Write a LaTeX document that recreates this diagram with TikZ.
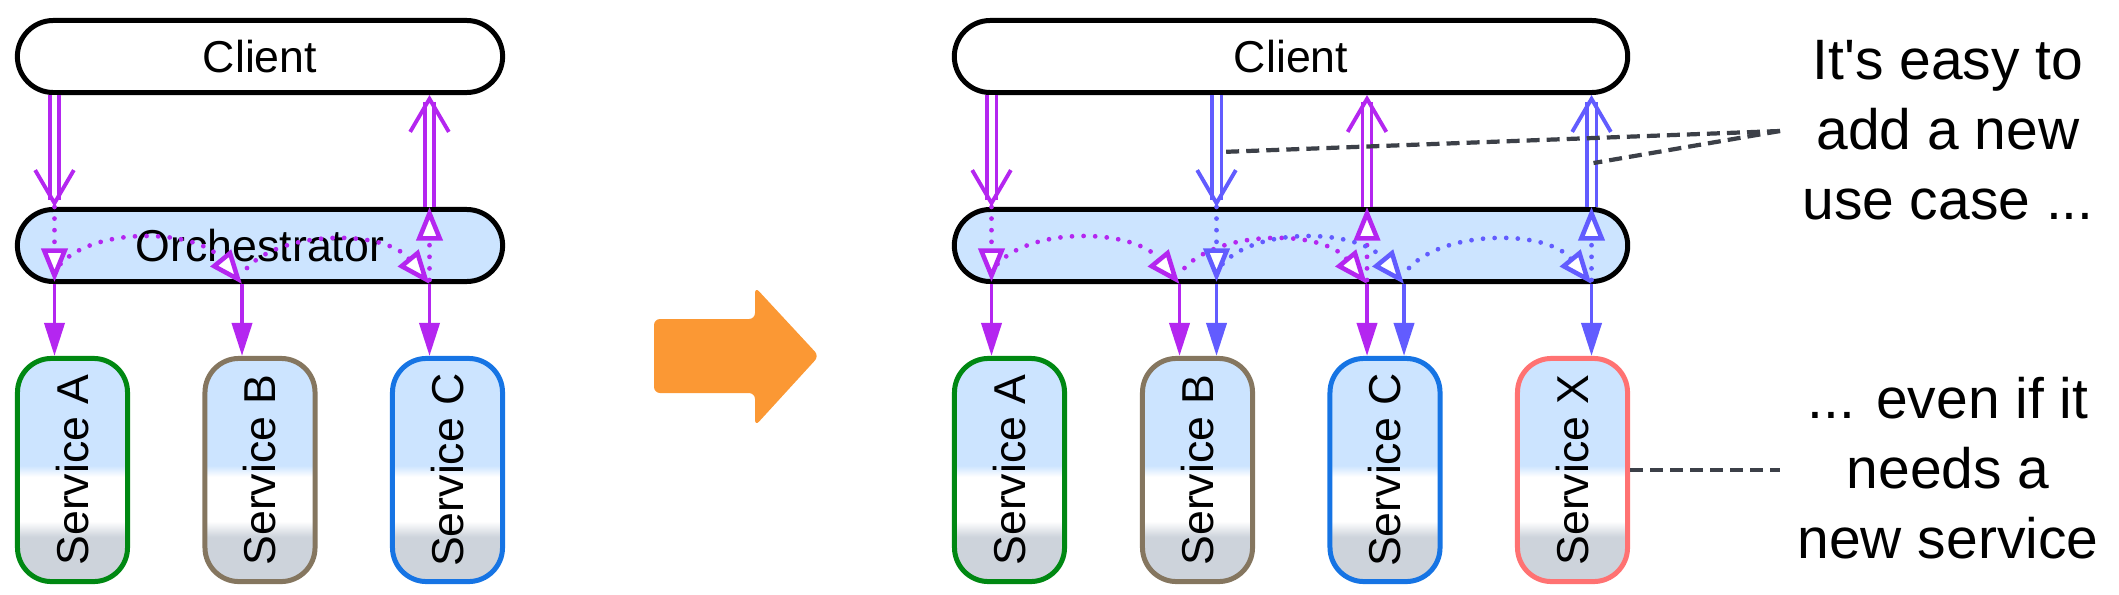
\documentclass[tikz,border=0pt]{standalone}
\usepackage{fontspec}
\setmainfont{Liberation Sans}[Ligatures=TeXOff]
\usetikzlibrary{arrows.meta,calc}
\definecolor{callpurple}{RGB}{180,38,240}
\definecolor{callblue}{RGB}{98,92,255}
\definecolor{orchblue}{RGB}{204,228,255}
\definecolor{svcgray}{RGB}{205,211,219}
\definecolor{svcgreen}{RGB}{0,136,18}
\definecolor{svcbrown}{RGB}{133,118,95}
\definecolor{svcblue}{RGB}{22,116,228}
\definecolor{svcred}{RGB}{255,114,114}
\definecolor{hintgray}{RGB}{60,64,72}
\definecolor{shiftorange}{RGB}{251,152,52}
\pgfdeclareverticalshading{svcshade}{100bp}{color(0bp)=(svcgray); color(35bp)=(svcgray); color(38.5bp)=(white); color(48.5bp)=(white); color(51bp)=(orchblue); color(100bp)=(orchblue)}

\tikzset{
    box/.style={draw=black, line width=1.42pt, rounded corners=0.36cm, minimum height=0.72cm, inner sep=0pt, font=\fontsize{12.7}{15}\selectfont},
    svc/.style={draw=#1, line width=1.42pt, rounded corners=0.34cm, shading=svcshade, minimum width=1.10cm, minimum height=2.23cm, inner sep=0pt, font=\fontsize{12.7}{15}\selectfont},
    call/.style={draw=#1, line width=1.1pt, -{Triangle[length=9.4pt,width=5.7pt]}},
    flow/.style={draw=#1, line width=1.35pt, line cap=round, dash pattern=on 0pt off 3.3pt, -{Triangle[open,length=9.6pt,width=7.4pt,line width=1.3pt,fill=white]}},
    usecase/.style={draw=#1, double=white, double distance=1.7pt, line width=0.9pt, shorten >=2pt},
    barb/.style={draw=#1, line width=1.1pt, -{Straight Barb[length=9.4pt,width=11pt]}},
    hint/.style={draw=hintgray, line width=1.2pt, dash pattern=on 3.7pt off 2pt},
    note/.style={align=center, inner sep=0pt, font=\fontsize{16.2}{19.9}\selectfont}
}

\begin{document}
\begin{tikzpicture}[x=0.01cm, y=-0.01cm]
    \useasboundingbox (0,0) rectangle (2119,594);

    % before
    \node [box, minimum width=4.85cm] (client) at (260,56.5) {Client};
    \node [box, minimum width=4.85cm, fill=orchblue] (orch) at (260,245.5) {Orchestrator};
    \node [svc=svcgreen] (svcA) at (72.5,470) {\rotatebox{90}{Service A}};
    \node [svc=svcbrown] (svcB) at (260,470) {\rotatebox{90}{Service B}};
    \node [svc=svcblue] (svcC) at (447.5,470) {\rotatebox{90}{Service C}};

    \coordinate (inA) at ($(svcA.north)+(-18,0)$);
    \coordinate (inB) at ($(svcB.north)+(-18,0)$);
    \coordinate (inC) at ($(svcC.north)+(-18,0)$);

    \draw [usecase=callpurple] (client.south -| inA) -- (orch.north -| inA);
    \draw [barb=callpurple] ($(orch.north -| inA)+(0,-3)$) -- (orch.north -| inA);
    \draw [flow=callpurple] (orch.north -| inA) -- ($(orch.south -| inA)+(0,-2)$);
    \draw [flow=callpurple] ($(orch.south -| inA)+(6,-20)$) .. controls +(35,-38) and +(-45,-55) .. (orch.south -| inB);
    \draw [flow=callpurple] ($(orch.south -| inB)+(5,-16)$) .. controls +(35,-38) and +(-45,-55) .. (orch.south -| inC);
    \draw [flow=callpurple] ($(orch.south -| inC)+(0,-4)$) -- (orch.north -| inC);
    \draw [usecase=callpurple] (orch.north -| inC) -- (client.south -| inC);
    \draw [barb=callpurple] ($(client.south -| inC)+(0,3)$) -- (client.south -| inC);
    \draw [call=callpurple] (orch.south -| inA) -- (inA);
    \draw [call=callpurple] (orch.south -| inB) -- (inB);
    \draw [call=callpurple] (orch.south -| inC) -- (inC);

    % shift
    \fill [shiftorange, rounded corners=0.06cm] (654,319) -- (755,319) -- (755,287) -- (819,356) -- (755,426) -- (755,393) -- (654,393) -- cycle;

    % after
    \node [box, minimum width=6.73cm] (client2) at (1291,56.5) {Client};
    \node [box, minimum width=6.73cm, fill=orchblue] (orch2) at (1291,245.5) {};
    \node [svc=svcgreen] (svcA2) at (1009.5,470) {\rotatebox{90}{Service A}};
    \node [svc=svcbrown] (svcB2) at (1197.5,470) {\rotatebox{90}{Service B}};
    \node [svc=svcblue] (svcC2) at (1385,470) {\rotatebox{90}{Service C}};
    \node [svc=svcred] (svcX2) at (1572.5,470) {\rotatebox{90}{Service X}};

    \coordinate (inA2) at ($(svcA2.north)+(-18,0)$);
    \coordinate (inB2) at ($(svcB2.north)+(-18,0)$);
    \coordinate (inC2) at ($(svcC2.north)+(-18,0)$);
    \coordinate (newB2) at ($(svcB2.north)+(19,0)$);
    \coordinate (newC2) at ($(svcC2.north)+(19,0)$);
    \coordinate (newX2) at ($(svcX2.north)+(19,0)$);

    \draw [usecase=callpurple] (client2.south -| inA2) -- (orch2.north -| inA2);
    \draw [barb=callpurple] ($(orch2.north -| inA2)+(0,-3)$) -- (orch2.north -| inA2);
    \draw [flow=callpurple] (orch2.north -| inA2) -- ($(orch2.south -| inA2)+(0,-2)$);
    \draw [flow=callpurple] ($(orch2.south -| inA2)+(6,-20)$) .. controls +(35,-38) and +(-45,-55) .. (orch2.south -| inB2);
    \draw [flow=callpurple] ($(orch2.south -| inB2)+(5,-16)$) .. controls +(35,-38) and +(-45,-55) .. (orch2.south -| inC2);
    \draw [flow=callpurple] ($(orch2.south -| inC2)+(0,-4)$) -- (orch2.north -| inC2);
    \draw [usecase=callpurple] (orch2.north -| inC2) -- (client2.south -| inC2);
    \draw [barb=callpurple] ($(client2.south -| inC2)+(0,3)$) -- (client2.south -| inC2);
    \draw [call=callpurple] (orch2.south -| inA2) -- (inA2);
    \draw [call=callpurple] (orch2.south -| inB2) -- (inB2);
    \draw [call=callpurple] (orch2.south -| inC2) -- (inC2);

    \draw [usecase=callblue] (client2.south -| newB2) -- (orch2.north -| newB2);
    \draw [barb=callblue] ($(orch2.north -| newB2)+(0,-3)$) -- (orch2.north -| newB2);
    \draw [flow=callblue] (orch2.north -| newB2) -- ($(orch2.south -| newB2)+(0,-2)$);
    \draw [flow=callblue] ($(orch2.south -| newB2)+(6,-20)$) .. controls +(35,-38) and +(-45,-55) .. (orch2.south -| newC2);
    \draw [flow=callblue] ($(orch2.south -| newC2)+(5,-16)$) .. controls +(35,-38) and +(-45,-55) .. (orch2.south -| newX2);
    \draw [flow=callblue] ($(orch2.south -| newX2)+(0,-4)$) -- (orch2.north -| newX2);
    \draw [usecase=callblue] (orch2.north -| newX2) -- (client2.south -| newX2);
    \draw [barb=callblue] ($(client2.south -| newX2)+(0,3)$) -- (client2.south -| newX2);
    \draw [call=callblue] (orch2.south -| newB2) -- (newB2);
    \draw [call=callblue] (orch2.south -| newC2) -- (newC2);
    \draw [call=callblue] (orch2.south -| newX2) -- (newX2);

    % notes
    \node [note, anchor=north] (easy) at (1948,40) {It's easy to\\add a new\\use case ...};
    \node [note, anchor=north] (even) at (1948,377) {... even if it\\needs a\\new service};
    \coordinate (easyhint) at (1780,131);
    \coordinate (evenhint) at (1780,470);
    \coordinate (hintB2) at ($(client2.south -| newB2)+(4,57)$);
    \coordinate (hintX2) at ($(client2.south -| newX2)+(2,68)$);
    \draw [hint] (easyhint) -- (hintB2);
    \draw [hint] (easyhint) -- (hintX2);
    \draw [hint] (svcX2.east) -- (evenhint);
\end{tikzpicture}
\end{document}
